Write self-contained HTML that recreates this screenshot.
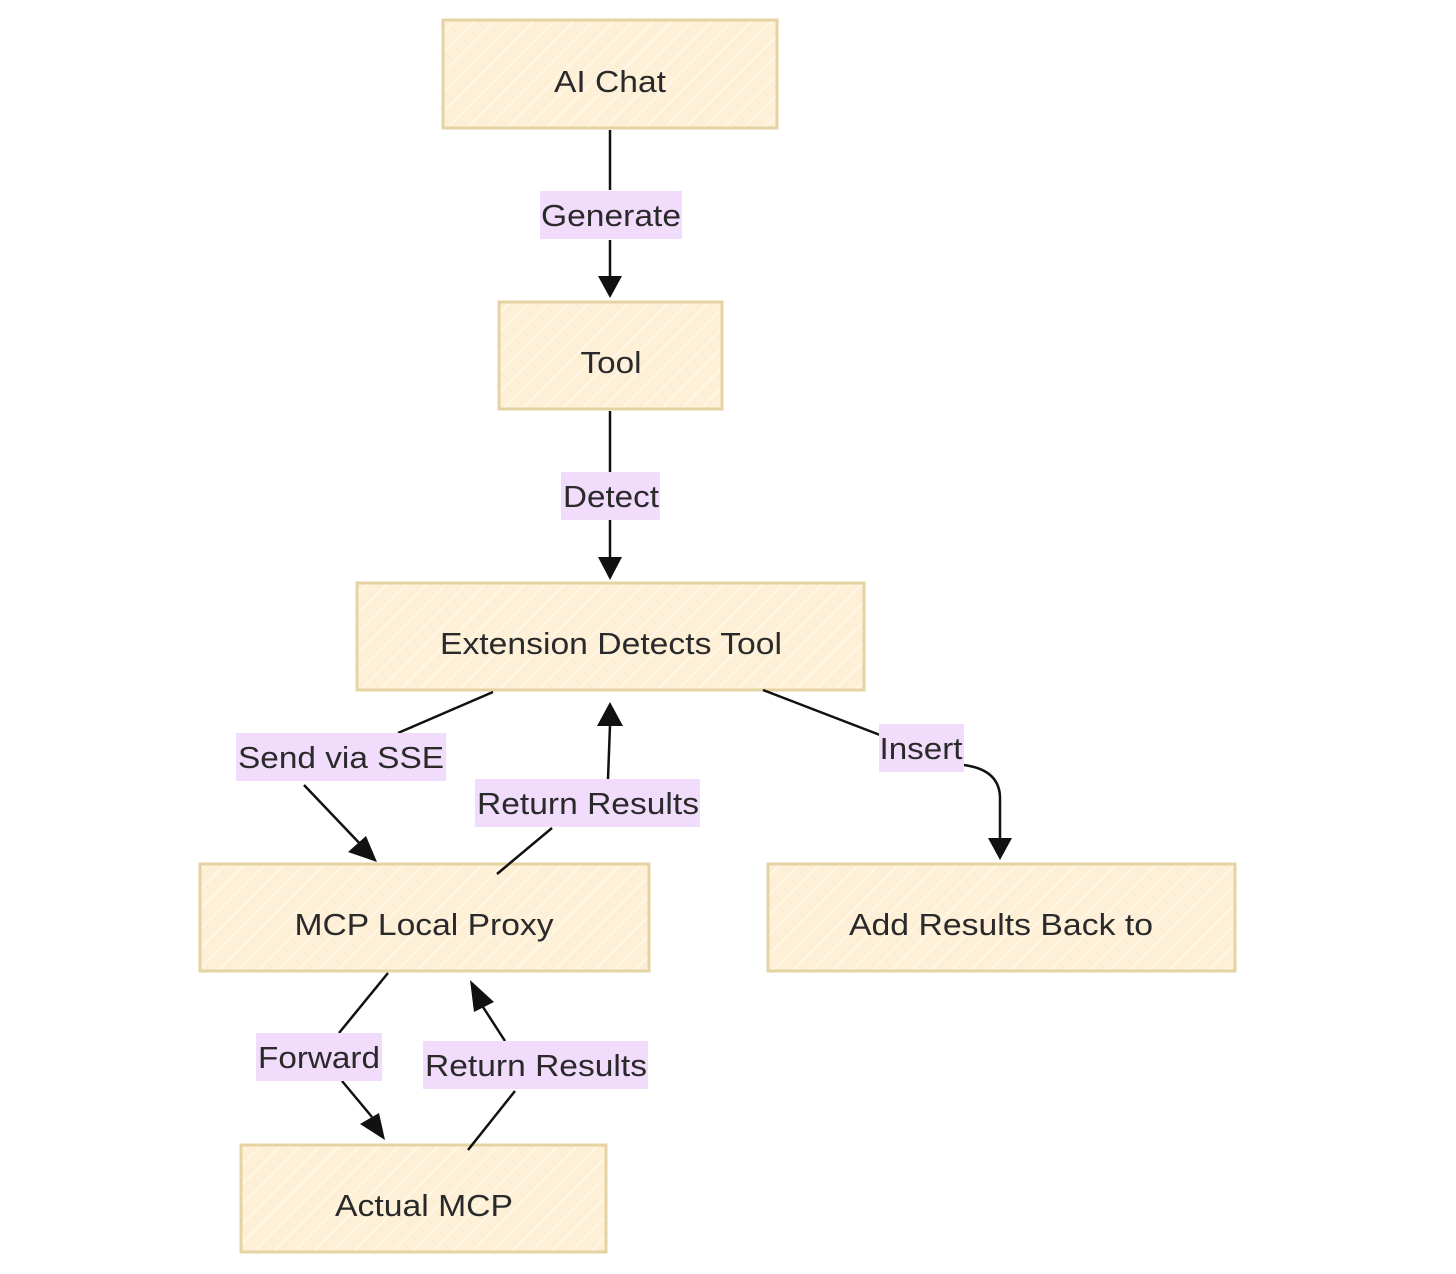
<!DOCTYPE html>
<html><head><meta charset="utf-8"><style>
html,body{margin:0;padding:0;background:#fff;}
svg{display:block;}
text{font-family:"Liberation Sans",sans-serif;font-size:31px;fill:#2a2a2a;}
.lb{fill:#f2dcfb;}
.e{stroke:#111;stroke-width:2.5;fill:none;}
.n{fill:url(#h);stroke:#e6d3a3;stroke-width:3;}
</style></head><body>
<svg width="1456" height="1274" viewBox="0 0 1456 1274" xmlns="http://www.w3.org/2000/svg">
<defs>
<pattern id="h" width="14" height="14" patternUnits="userSpaceOnUse" patternTransform="rotate(45)">
<rect width="14" height="14" fill="#fdf0d6"/>
<line x1="0" y1="0" x2="0" y2="14" stroke="#fffaf0" stroke-width="2.5"/>
</pattern>
</defs>
<!-- nodes -->
<rect class="n" x="443" y="20" width="334" height="108"/>
<text x="610" y="92" text-anchor="middle" textLength="112" lengthAdjust="spacingAndGlyphs">AI Chat</text>
<rect class="n" x="499" y="302" width="223" height="107"/>
<text x="611" y="373" text-anchor="middle" textLength="61" lengthAdjust="spacingAndGlyphs">Tool</text>
<rect class="n" x="357" y="583" width="507" height="107"/>
<text x="611" y="654" text-anchor="middle" textLength="342" lengthAdjust="spacingAndGlyphs">Extension Detects Tool</text>
<rect class="n" x="200" y="864" width="449" height="107"/>
<text x="424" y="935" text-anchor="middle" textLength="259" lengthAdjust="spacingAndGlyphs">MCP Local Proxy</text>
<rect class="n" x="768" y="864" width="467" height="107"/>
<text x="1001" y="935" text-anchor="middle" textLength="304" lengthAdjust="spacingAndGlyphs">Add Results Back to</text>
<rect class="n" x="241" y="1145" width="365" height="107"/>
<text x="424" y="1216" text-anchor="middle" textLength="178" lengthAdjust="spacingAndGlyphs">Actual MCP</text>
<!-- edges -->
<path class="e" d="M610,130 L610,190"/>
<path d="M598,276 L622,276 L610,298z" fill="#111"/>
<path class="e" d="M610,240 L610,280"/>
<path class="e" d="M610,411 L610,472"/>
<path d="M598,557 L622,557 L610,580z" fill="#111"/>
<path class="e" d="M610,520 L610,558"/>
<path class="e" d="M493,692 L398,733"/>
<path class="e" d="M304,785 L364,848"/>
<path d="M348,852 L377,862 L366,836z" fill="#111"/>
<path class="e" d="M497,874 L552,828"/>
<path class="e" d="M608,779 L610,725"/>
<path d="M597,726 L623,726 L610,702z" fill="#111"/>
<path class="e" d="M763,690 L880,735"/>
<path class="e" d="M964,765 Q1001,770 1000,800 L1000,842"/>
<path d="M988,838 L1012,838 L1000,860z" fill="#111"/>
<path class="e" d="M388,973 L339,1033"/>
<path class="e" d="M342,1081 L372,1117"/>
<path d="M360,1124 L385,1140 L379,1113z" fill="#111"/>
<path class="e" d="M468,1150 L515,1091"/>
<path class="e" d="M505,1041 L483,1007"/>
<path d="M470,980 L494,1002 L474,1012z" fill="#111"/>
<!-- labels -->
<rect class="lb" x="540" y="191" width="142" height="48"/><text x="611" y="226" text-anchor="middle" textLength="140" lengthAdjust="spacingAndGlyphs">Generate</text>
<rect class="lb" x="561" y="472" width="99" height="48"/><text x="611" y="507" text-anchor="middle" textLength="96" lengthAdjust="spacingAndGlyphs">Detect</text>
<rect class="lb" x="236" y="733" width="210" height="48"/><text x="341" y="768" text-anchor="middle" textLength="206" lengthAdjust="spacingAndGlyphs">Send via SSE</text>
<rect class="lb" x="475" y="779" width="225" height="48"/><text x="588" y="814" text-anchor="middle" textLength="222" lengthAdjust="spacingAndGlyphs">Return Results</text>
<rect class="lb" x="879" y="724" width="85" height="48"/><text x="921" y="759" text-anchor="middle" textLength="83" lengthAdjust="spacingAndGlyphs">Insert</text>
<rect class="lb" x="256" y="1033" width="126" height="48"/><text x="319" y="1068" text-anchor="middle" textLength="122" lengthAdjust="spacingAndGlyphs">Forward</text>
<rect class="lb" x="423" y="1041" width="225" height="48"/><text x="536" y="1076" text-anchor="middle" textLength="222" lengthAdjust="spacingAndGlyphs">Return Results</text>
</svg>
</body></html>
